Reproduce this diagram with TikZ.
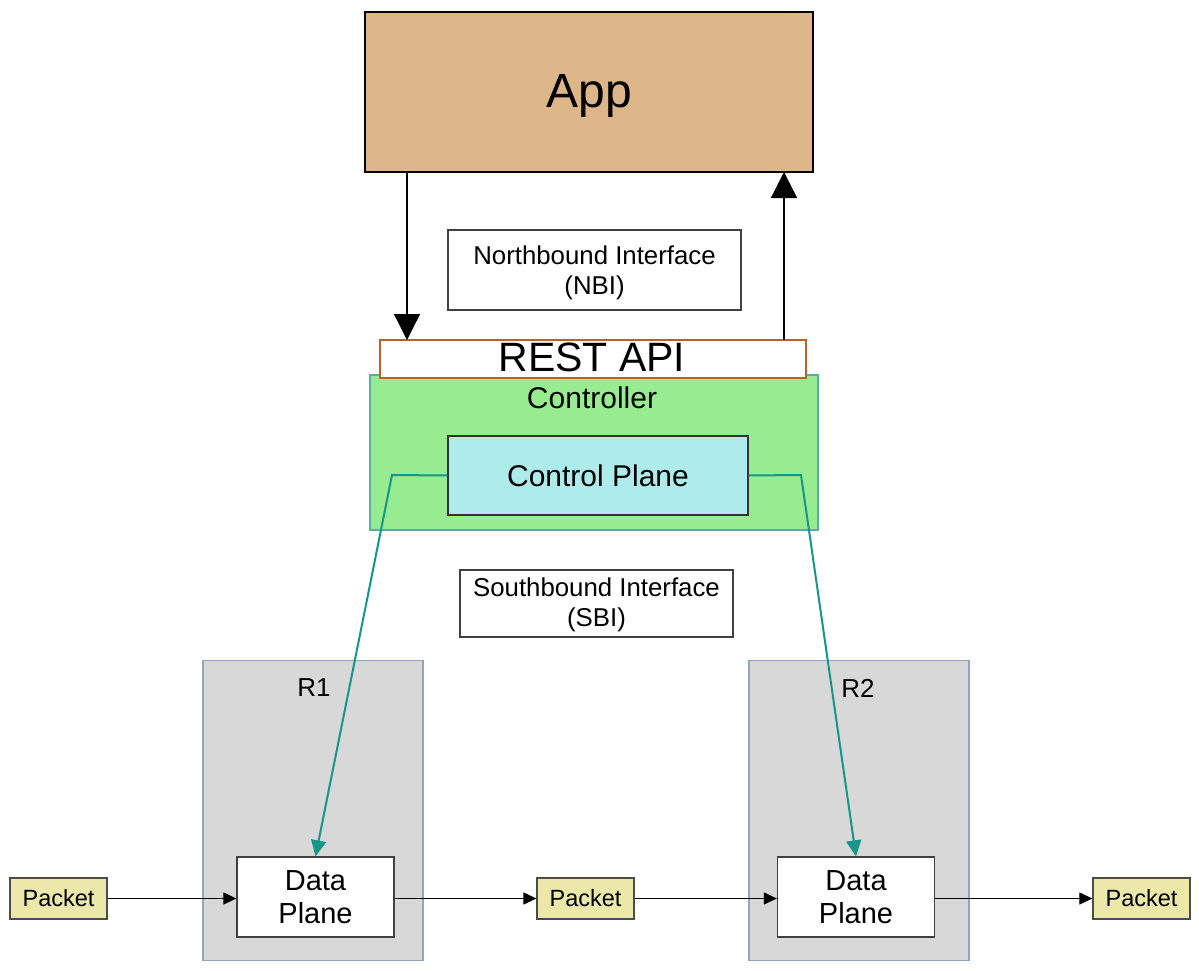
\documentclass[tikz,border=0pt]{standalone}
\usepackage{fontspec}
\setmainfont{Liberation Sans}
\usetikzlibrary{arrows.meta}
\definecolor{apptan}{RGB}{220,182,137}
\definecolor{ctrlgreen}{RGB}{152,236,144}
\definecolor{ctrlborder}{RGB}{95,170,160}
\definecolor{cpcyan}{RGB}{174,236,236}
\definecolor{restborder}{RGB}{180,100,40}
\definecolor{rgray}{RGB}{216,216,216}
\definecolor{rborder}{RGB}{143,165,189}
\definecolor{pkt}{RGB}{236,232,170}
\definecolor{tealline}{RGB}{22,150,136}
\tikzset{
  box/.style={draw, line width=1.3pt, inner sep=0pt, anchor=center},
  ifbox/.style={box, draw=black!75, fill=white},
  iftext/.style={inner sep=0pt, anchor=center, align=center, font=\fontsize{25.8}{30}\selectfont},
  rbox/.style={box, draw=rborder, fill=rgray},
  dpbox/.style={box, draw=black!75, fill=white, align=center, minimum width=157pt, minimum height=80pt, font=\fontsize{29}{33}\selectfont},
  pktbox/.style={box, draw=black!70, fill=pkt, minimum width=97pt, minimum height=41pt, font=\fontsize{23.5}{26}\selectfont},
  bigarrow/.style={line width=1.3pt, -{Triangle[width=26pt,length=26pt]}},
  teal/.style={draw=tealline, line width=2pt, -{Triangle[width=15pt,length=16pt]}},
  pktarrow/.style={line width=1.2pt, -{Triangle[width=12pt,length=13pt]}},
  lbl/.style={inner sep=0pt, anchor=center}
}
\begin{document}
\begin{tikzpicture}[x=1pt,y=-1pt]
\useasboundingbox[fill=white] (0,0) rectangle (1199,971);
% App
\node[box, draw=black, fill=apptan, minimum width=448pt, minimum height=160pt] (app) at (589,92) {};
\node[lbl, font=\fontsize{48}{52}\selectfont] (applbl) at (589,96) {App};
% Controller
\node[box, draw=ctrlborder, fill=ctrlgreen, minimum width=448pt, minimum height=155pt] (ctrl) at (594,452.5) {};
\node[lbl, font=\fontsize{30}{34}\selectfont] (ctrllbl) at (592,398) {Controller};
% REST API
\node[box, draw=restborder, fill=white, minimum width=426pt, minimum height=38pt] (rest) at (593,359) {};
\node[lbl, font=\fontsize{41}{44}\selectfont] (restlbl) at (592,357) {REST API};
% Control Plane
\node[box, draw=black!80, fill=cpcyan, minimum width=300pt, minimum height=79pt, font=\fontsize{30}{34}\selectfont] (cp) at (598,475.5) {Control Plane};
% NBI / SBI
\node[ifbox, minimum width=293pt, minimum height=80pt] (nbi) at (594.5,270) {};
\node[iftext] (nbitext) at (594.5,272.5) {Northbound Interface\\(NBI)};
\node[ifbox, minimum width=273pt, minimum height=67pt] (sbi) at (596.5,603.5) {};
\node[iftext] (sbitext) at (596.5,605) {Southbound Interface\\(SBI)};
% Routers
\node[rbox, minimum width=220pt, minimum height=300pt] (r1) at (313,810.5) {};
\node[rbox, minimum width=220pt, minimum height=300pt] (r2) at (859,810.5) {};
\node[lbl, font=\fontsize{26}{30}\selectfont] (r1lbl) at (314,688) {R1};
\node[lbl, font=\fontsize{26}{30}\selectfont] (r2lbl) at (858,688) {R2};
% Data planes
\node[dpbox] (dp1) at (315.5,897) {Data\\Plane};
\node[dpbox] (dp2) at (856,897) {Data\\Plane};
% Packets
\node[pktbox] (p1) at (58.5,898.5) {Packet};
\node[pktbox] (p2) at (585.5,898.5) {Packet};
\node[pktbox] (p3) at (1141.5,898.5) {Packet};
% NBI arrows
\coordinate (appL) at (407,172);
\coordinate (restL) at (407,340);
\coordinate (restR) at (784,340);
\coordinate (appR) at (784,172);
\draw[bigarrow] (appL) -- (restL);
\draw[bigarrow] (restR) -- (appR);
% SBI teal
\coordinate (tl) at (392,475);
\coordinate (tr) at (801,475);
\draw[teal] (cp.west) -- (tl) -- (dp1.north);
\draw[teal] (cp.east) -- (tr) -- (dp2.north);
% packet flow
\draw[pktarrow] (p1.east) -- (dp1.west |- p1.east);
\draw[pktarrow] (dp1.east |- p2.west) -- (p2.west);
\draw[pktarrow] (p2.east) -- (dp2.west |- p2.east);
\draw[pktarrow] (dp2.east |- p3.west) -- (p3.west);
\end{tikzpicture}
\end{document}
